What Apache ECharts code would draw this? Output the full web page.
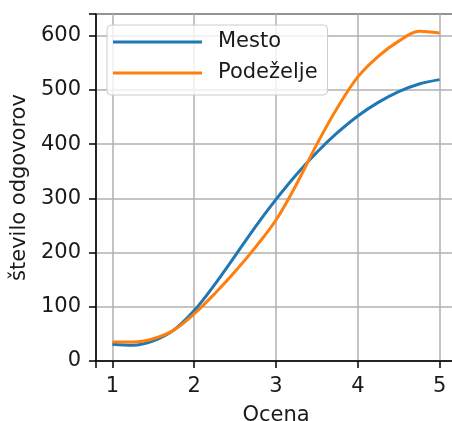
<!DOCTYPE html>
<html>
<head>
<meta charset="utf-8">
<script src="https://cdn.jsdelivr.net/npm/echarts@6/dist/echarts.min.js"></script>
<style>
html,body{margin:0;padding:0;background:#fff;}
#chart{width:452px;height:421px;}
</style>
</head>
<body>
<div id="chart"></div>
<script>
// Values
const ocena = [1, 1.25, 1.5, 1.75, 2, 2.25, 2.5, 2.75, 3, 3.25, 3.5, 3.75, 4, 4.25, 4.5, 4.75, 5];
const mesto = [31, 29, 37, 57, 93, 141, 194, 248, 298, 344, 385, 421, 452, 477, 497, 511, 519];
const podezelje = [35, 35, 41, 57, 87, 124, 165, 210, 260, 326, 400, 467, 524, 562, 590, 608, 605];
const seriesNames = ['Mesto', 'Podeželje'];
const xTicks = [1, 2, 3, 4, 5];
const yTicks = [0, 100, 200, 300, 400, 500, 600];
const xLabel = 'Ocena';
const yLabel = 'število odgovorov';

const FONT = 'DejaVu Sans';
const chart = echarts.init(document.getElementById('chart'), null, {renderer: 'canvas'});
const toPairs = (xs, ys) => xs.map((x, i) => [x, ys[i]]);

chart.setOption({
  animation: false,
  backgroundColor: '#ffffff',
  textStyle: {fontFamily: FONT},
  grid: {left: 96, top: 14, width: 360, bottom: 60, containLabel: false, outerBoundsMode: 'none',
    show: true, borderColor: '#000', borderWidth: 1.5, backgroundColor: 'transparent'},
  legend: {
    orient: 'vertical', left: 107, top: 25,
    data: seriesNames.map(n => ({name: n, icon: 'rect'})),
    itemWidth: 89, itemHeight: 3, itemGap: 9,
    padding: [6, 10, 11, 6],
    backgroundColor: 'rgba(255,255,255,0.8)',
    borderColor: '#cccccc', borderWidth: 1, borderRadius: 4,
    textStyle: {fontFamily: FONT, fontSize: 21, color: '#1a1a1a', lineHeight: 22, padding: [0, 0, 0, 11]}
  },
  xAxis: {
    type: 'value', min: 0.8, max: 5.2, splitNumber: 5,
    name: xLabel, nameLocation: 'middle', nameGap: 44,
    nameTextStyle: {fontFamily: FONT, fontSize: 21, color: '#1a1a1a'},
    axisLine: {show: true, lineStyle: {color: '#000', width: 1.5}},
    axisTick: {show: true, length: 7, lineStyle: {color: '#000', width: 1.5}},
    axisLabel: {fontFamily: FONT, fontSize: 21, color: '#1a1a1a', margin: 15,
      formatter: v => xTicks.includes(Math.round(v * 1000) / 1000) ? String(v) : ''},
    splitLine: {show: true, lineStyle: {color: '#b0b0b0', width: 1.5}}
  },
  yAxis: {
    type: 'value', min: 0, max: 640, interval: 100,
    name: yLabel, nameLocation: 'middle', nameGap: 66, nameRotate: 90,
    nameTextStyle: {fontFamily: FONT, fontSize: 21, color: '#1a1a1a'},
    axisLine: {show: true, lineStyle: {color: '#000', width: 1.5}},
    axisTick: {show: true, length: 7, lineStyle: {color: '#000', width: 1.5}},
    axisLabel: {fontFamily: FONT, fontSize: 21, color: '#1a1a1a', margin: 15,
      formatter: v => yTicks.includes(v) ? String(v) : ''},
    splitLine: {show: true, lineStyle: {color: '#b0b0b0', width: 1.5}}
  },
  series: [
    {name: seriesNames[0], type: 'line', data: toPairs(ocena, mesto), smooth: 0.35,
      showSymbol: false, symbol: 'none',
      lineStyle: {color: '#1f77b4', width: 3}, itemStyle: {color: '#1f77b4'}, z: 3},
    {name: seriesNames[1], type: 'line', data: toPairs(ocena, podezelje), smooth: 0.35,
      showSymbol: false, symbol: 'none',
      lineStyle: {color: '#ff7f0e', width: 3}, itemStyle: {color: '#ff7f0e'}, z: 4}
  ]
});
</script>
</body>
</html>
